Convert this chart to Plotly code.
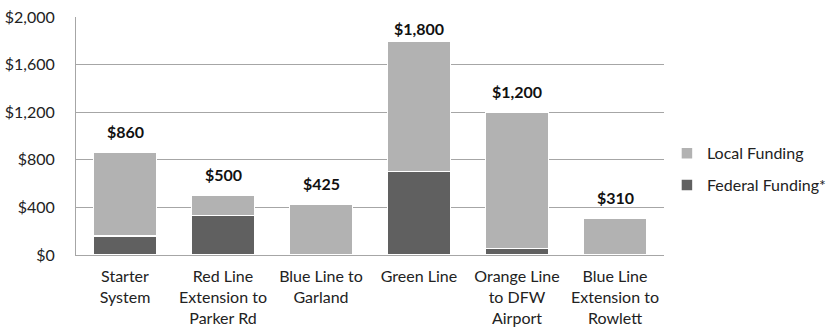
import plotly.graph_objects as go

categories = ["Starter<br>System", "Red Line<br>Extension to<br>Parker Rd", "Blue Line to<br>Garland",
              "Green Line", "Orange Line<br>to DFW<br>Airport", "Blue Line<br>Extension to<br>Rowlett"]
federal = [160, 330, 0, 700, 55, 0]
local = [700, 170, 425, 1100, 1145, 310]
totals = [860, 500, 425, 1800, 1200, 310]
tick_vals = [0, 400, 800, 1200, 1600, 2000]
tick_text = ["$0", "$400", "$800", "$1,200", "$1,600", "$2,000"]

FONT = "Lato, Open Sans, sans-serif"
Y_MAX = 2000
PLOT_TOP, PLOT_H = 17, 238

fig = go.Figure()
fig.add_trace(go.Bar(x=categories, y=federal, name="Federal Funding*",
                     marker=dict(color="#606060", line=dict(color="white", width=1.5)),
                     legendgroup="f", legendrank=2))
fig.add_trace(go.Bar(x=categories, y=local, name="Local Funding",
                     marker=dict(color="#b2b2b2", line=dict(color="white", width=1.5)),
                     legendgroup="l", legendrank=1))

for c, t in zip(categories, totals):
    top_px = PLOT_TOP + (Y_MAX - t) * PLOT_H / Y_MAX
    shift = min(21, top_px - 28)
    fig.add_annotation(x=c, y=t, text="<b>$" + f"{t:,}" + "</b>", showarrow=False,
                       yanchor="middle", yshift=shift,
                       font=dict(size=16, color="#111", family=FONT))

fig.update_layout(
    width=835, height=329,
    margin=dict(l=76, r=171, t=PLOT_TOP, b=74, autoexpand=False),
    barmode="stack", bargap=0.36,
    plot_bgcolor="white", paper_bgcolor="white",
    font=dict(family=FONT, size=16, color="#222"),
    showlegend=True,
    legend=dict(x=1.005, y=0.36, xanchor="left", yanchor="middle",
                traceorder="grouped", tracegroupgap=8,
                font=dict(size=16, color="#222"), itemwidth=30),
    yaxis=dict(range=[0, Y_MAX], tickvals=tick_vals, ticktext=tick_text,
               showgrid=True, gridcolor="#a6a6a6", gridwidth=1,
               showline=True, linecolor="#a6a6a6", zeroline=False, ticks="",
               ticklabelstandoff=17),
    xaxis=dict(showline=True, linecolor="#a6a6a6", tickangle=0, ticks="",
               ticklabelstandoff=7),
)

fig.write_html("out.html")
